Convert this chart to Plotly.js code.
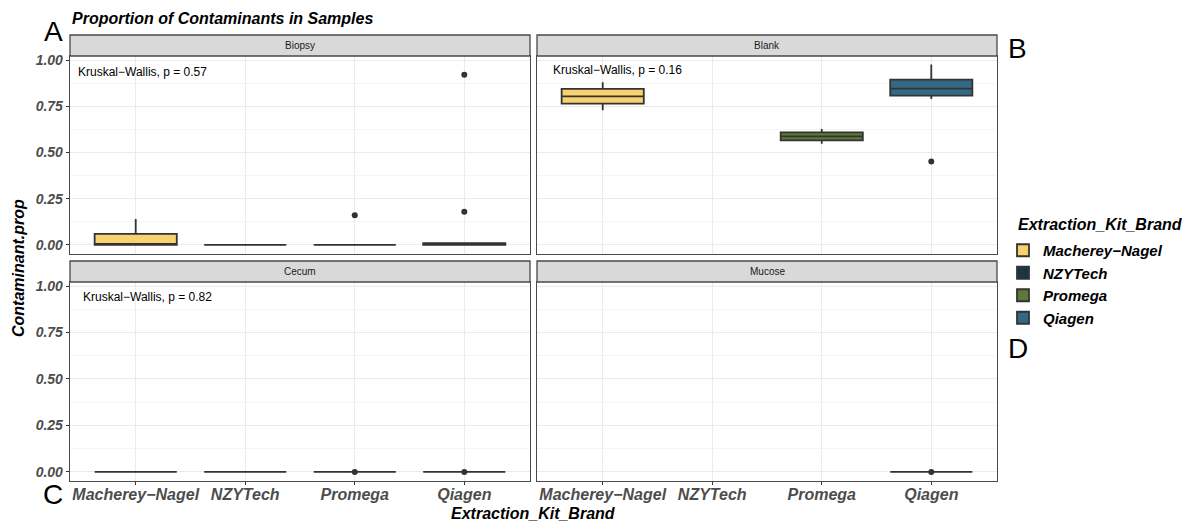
<!DOCTYPE html>
<html>
<head>
<meta charset="utf-8">
<script src="https://cdn.plot.ly/plotly-3.0.1.min.js"></script>
<style>html,body{margin:0;padding:0;background:#fff;}#chart{width:1193px;height:524px;}</style>
</head>
<body>
<div id="chart"></div>
<script>
// ---------- data ----------
const categories = ['Macherey−Nagel', 'NZYTech', 'Promega', 'Qiagen'];
const panelNames = ['Biopsy', 'Blank', 'Cecum', 'Mucose'];
const pLabels = ['Kruskal−Wallis, p = 0.57', 'Kruskal−Wallis, p = 0.16', 'Kruskal−Wallis, p = 0.82', ''];

const biopsyKits = ['Macherey−Nagel', 'NZYTech', 'Promega', 'Qiagen'];
const biopsyQ1 = [0, 0, 0, 0];
const biopsyMedian = [0.004, 0, 0, 0.002];
const biopsyQ3 = [0.06, 0, 0, 0.01];
const biopsyLower = [0, 0, 0, 0];
const biopsyUpper = [0.14, 0, 0, 0.01];
const biopsyOutlierKits = ['Promega', 'Qiagen', 'Qiagen'];
const biopsyOutlierValues = [0.16, 0.18, 0.92];

const blankKits = ['Macherey−Nagel', 'Promega', 'Qiagen'];
const blankQ1 = [0.764, 0.566, 0.808];
const blankMedian = [0.804, 0.587, 0.846];
const blankQ3 = [0.844, 0.609, 0.894];
const blankLower = [0.728, 0.548, 0.79];
const blankUpper = [0.88, 0.627, 0.976];
const blankOutlierKits = ['Qiagen'];
const blankOutlierValues = [0.452];

const cecumKits = ['Macherey−Nagel', 'NZYTech', 'Promega', 'Qiagen'];
const cecumQ1 = [0, 0, 0, 0];
const cecumMedian = [0, 0, 0, 0];
const cecumQ3 = [0, 0, 0, 0];
const cecumLower = [0, 0, 0, 0];
const cecumUpper = [0, 0, 0, 0];
const cecumOutlierKits = ['Promega', 'Qiagen'];
const cecumOutlierValues = [0, 0];

const mucoseKits = ['Qiagen'];
const mucoseQ1 = [0];
const mucoseMedian = [0];
const mucoseQ3 = [0];
const mucoseLower = [0];
const mucoseUpper = [0];
const mucoseOutlierKits = ['Qiagen'];
const mucoseOutlierValues = [0];

const yTicks = [0, 0.25, 0.5, 0.75, 1.0];

// ---------- styling ----------
const kitColors = {
  'Macherey−Nagel': '#F8D26E',
  'NZYTech': '#173843',
  'Promega': '#5C7A36',
  'Qiagen': '#326A86'
};
const W = 1193, H = 524;
const px = x => x / W;
const py = y => 1 - y / H;
const FONT = 'Liberation Sans, Arial, Helvetica, sans-serif';
const gridCol = '#ebebeb';
const borderCol = '#4a4a4a';

const panels = [
  {kits: biopsyKits, q1: biopsyQ1, med: biopsyMedian, q3: biopsyQ3, lo: biopsyLower, hi: biopsyUpper, ok: biopsyOutlierKits, ov: biopsyOutlierValues},
  {kits: blankKits, q1: blankQ1, med: blankMedian, q3: blankQ3, lo: blankLower, hi: blankUpper, ok: blankOutlierKits, ov: blankOutlierValues},
  {kits: cecumKits, q1: cecumQ1, med: cecumMedian, q3: cecumQ3, lo: cecumLower, hi: cecumUpper, ok: cecumOutlierKits, ov: cecumOutlierValues},
  {kits: mucoseKits, q1: mucoseQ1, med: mucoseMedian, q3: mucoseQ3, lo: mucoseLower, hi: mucoseUpper, ok: mucoseOutlierKits, ov: mucoseOutlierValues}
];

// pixel geometry of the facets
const colX = [[70, 530], [537, 997]];
const rowY = [[56, 254], [282, 481]];
const stripY = [[35, 56], [261, 282]];

const traces = [];
const shown = {};
panels.forEach((p, i) => {
  const sfx = i === 0 ? '' : String(i + 1);
  p.kits.forEach((k, j) => {
    traces.push({
      type: 'box',
      name: k,
      x: [categories.indexOf(k)],
      q1: [p.q1[j]], median: [p.med[j]], q3: [p.q3[j]],
      lowerfence: [p.lo[j]], upperfence: [p.hi[j]],
      width: 0.75,
      whiskerwidth: 0,
      boxpoints: false,
      fillcolor: kitColors[k],
      line: {color: '#333333', width: 1.8},
      xaxis: 'x' + sfx, yaxis: 'y' + sfx,
      showlegend: !shown[k],
      hoverinfo: 'skip'
    });
    shown[k] = true;
  });
  traces.push({
    type: 'scatter', mode: 'markers',
    x: p.ok.map(k => categories.indexOf(k)), y: p.ov,
    marker: {color: '#333333', size: 6},
    xaxis: 'x' + sfx, yaxis: 'y' + sfx,
    showlegend: false, hoverinfo: 'skip'
  });
});

const layout = {
  width: W, height: H, autosize: false,
  margin: {l: 0, r: 0, t: 0, b: 0},
  paper_bgcolor: '#fff', plot_bgcolor: '#fff',
  font: {family: FONT, color: '#1a1a1a'},
  boxmode: 'overlay',
  title: {
    text: 'Proportion of Contaminants in Samples',
    x: px(72), xanchor: 'left', y: py(18), yanchor: 'middle',
    font: {family: FONT, size: 16, weight: 'bold', style: 'italic', color: '#000'}
  },
  showlegend: true,
  legend: {
    x: px(1003), xanchor: 'left', y: py(234), yanchor: 'top',
    bgcolor: 'rgba(0,0,0,0)', tracegroupgap: 0,
    font: {family: FONT, size: 15, weight: 'bold', style: 'italic', color: '#000'}
  },
  shapes: [],
  annotations: []
};

for (let i = 0; i < 4; i++) {
  const r = Math.floor(i / 2), c = i % 2;
  const sfx = i === 0 ? '' : String(i + 1);
  const showX = r === 1, showY = c === 0;
  layout['xaxis' + sfx] = {
    domain: [px(colX[c][0]), px(colX[c][1])],
    anchor: 'y' + sfx,
    range: [-0.6, 3.6],
    tickmode: 'array', tickvals: [0, 1, 2, 3], ticktext: categories,
    showticklabels: showX,
    ticks: showX ? 'outside' : '', ticklen: 3, tickcolor: '#333', tickwidth: 1,
    ticklabelstandoff: -5,
    tickfont: {family: FONT, size: 16, weight: 'bold', style: 'italic', color: '#4d4d4d'},
    showgrid: true, gridcolor: gridCol, gridwidth: 1,
    zeroline: false, showline: true, mirror: true, linecolor: borderCol, linewidth: 1.3,
    fixedrange: true
  };
  layout['yaxis' + sfx] = {
    domain: [py(rowY[r][1]), py(rowY[r][0])],
    anchor: 'x' + sfx,
    range: [-0.049, 1.022],
    tickmode: 'array', tickvals: yTicks, ticktext: yTicks.map(v => v.toFixed(2)),
    showticklabels: showY,
    ticks: showY ? 'outside' : '', ticklen: 3, tickcolor: '#333', tickwidth: 1,
    tickfont: {family: FONT, size: 14, weight: 'bold', style: 'italic', color: '#4d4d4d'},
    showgrid: true, gridcolor: gridCol, gridwidth: 1,
    minor: {tickvals: [0.125, 0.375, 0.625, 0.875], showgrid: true, gridcolor: '#f5f5f5', gridwidth: 1, ticks: ''},
    zeroline: false, showline: true, mirror: true, linecolor: borderCol, linewidth: 1.3,
    fixedrange: true
  };
  // strip
  layout.shapes.push({
    type: 'rect', xref: 'paper', yref: 'paper',
    x0: px(colX[c][0]), x1: px(colX[c][1]),
    y0: py(stripY[r][1]), y1: py(stripY[r][0]),
    fillcolor: '#d9d9d9', line: {color: borderCol, width: 1.3}, layer: 'above'
  });
  layout.annotations.push({
    xref: 'paper', yref: 'paper',
    x: px((colX[c][0] + colX[c][1]) / 2), y: py((stripY[r][0] + stripY[r][1]) / 2),
    xanchor: 'center', yanchor: 'middle', showarrow: false,
    text: panelNames[i], font: {family: FONT, size: 10, color: '#1a1a1a'}
  });
}

// Kruskal-Wallis labels
const kwPos = [[76, 72], [551, 70], [81, 297]];
kwPos.forEach((pp, i) => {
  layout.annotations.push({
    xref: 'paper', yref: 'paper', x: px(pp[0]), y: py(pp[1]),
    xanchor: 'left', yanchor: 'middle', showarrow: false,
    text: pLabels[i], font: {family: FONT, size: 12, color: '#000'}
  });
});

// legend title
layout.annotations.push({
  xref: 'paper', yref: 'paper', x: px(1016), y: py(224),
  xanchor: 'left', yanchor: 'middle', showarrow: false,
  text: 'Extraction_Kit_Brand', font: {family: FONT, size: 16, weight: 'bold', style: 'italic', color: '#000'}
});

// axis titles
layout.annotations.push({
  xref: 'paper', yref: 'paper', x: px(533), y: py(513),
  xanchor: 'center', yanchor: 'middle', showarrow: false,
  text: 'Extraction_Kit_Brand', font: {family: FONT, size: 16, weight: 'bold', style: 'italic', color: '#000'}
});
layout.annotations.push({
  xref: 'paper', yref: 'paper', x: px(18), y: py(268),
  xanchor: 'center', yanchor: 'middle', showarrow: false, textangle: -90,
  text: 'Contaminant.prop', font: {family: FONT, size: 16, weight: 'bold', style: 'italic', color: '#000'}
});

// panel letters
const letters = [['A', 53, 32], ['B', 1017, 48], ['C', 53, 494], ['D', 1018, 348]];
letters.forEach(l => {
  layout.annotations.push({
    xref: 'paper', yref: 'paper', x: px(l[1]), y: py(l[2]),
    xanchor: 'center', yanchor: 'middle', showarrow: false,
    text: l[0], font: {family: FONT, size: 28, color: '#000'}
  });
});

Plotly.newPlot('chart', traces, layout, {staticPlot: true, displayModeBar: false});
</script>
</body>
</html>
